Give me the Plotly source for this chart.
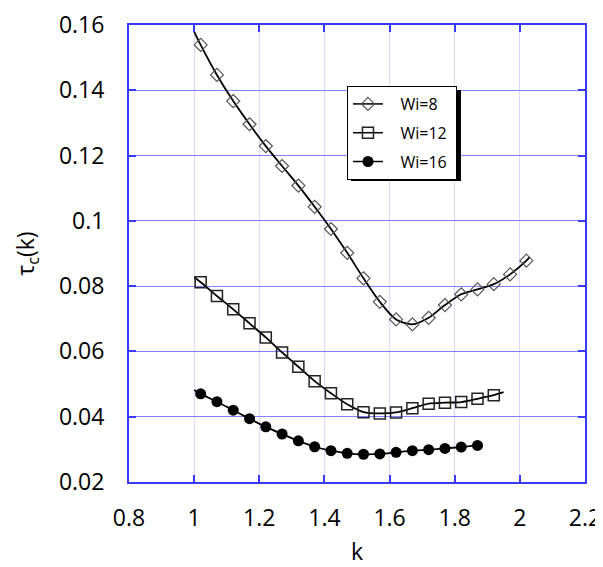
import plotly.graph_objects as go

# ---- data ----
k_wi8 = [1.02, 1.07, 1.12, 1.17, 1.22, 1.27, 1.32, 1.37, 1.42, 1.47, 1.52,
         1.57, 1.62, 1.67, 1.72, 1.77, 1.82, 1.87, 1.92, 1.97, 2.02]
tau_wi8 = [0.1539, 0.1447, 0.1367, 0.1296, 0.1229, 0.1168, 0.1108, 0.1043,
           0.0975, 0.0902, 0.0824, 0.0752, 0.0698, 0.0683, 0.0703, 0.0742,
           0.0775, 0.0790, 0.0806, 0.0836, 0.0878]

k_wi12 = [1.02, 1.07, 1.12, 1.17, 1.22, 1.27, 1.32, 1.37, 1.42, 1.47, 1.52,
          1.57, 1.62, 1.67, 1.72, 1.77, 1.82, 1.87, 1.92]
tau_wi12 = [0.0812, 0.0770, 0.0729, 0.0686, 0.0643, 0.0597, 0.0553, 0.0509,
            0.0472, 0.0438, 0.0414, 0.0410, 0.0413, 0.0426, 0.0440, 0.0443,
            0.0445, 0.0455, 0.0466]

k_wi16 = [1.02, 1.07, 1.12, 1.17, 1.22, 1.27, 1.32, 1.37, 1.42, 1.47, 1.52,
          1.57, 1.62, 1.67, 1.72, 1.77, 1.82, 1.87]
tau_wi16 = [0.0470, 0.0446, 0.0420, 0.0394, 0.0369, 0.0347, 0.0326, 0.0308,
            0.0296, 0.0288, 0.0285, 0.0286, 0.0291, 0.0296, 0.0299, 0.0303,
            0.0307, 0.0312]

# fitted curves
fit_k_wi8 = [1.00] + k_wi8 + [2.03]
fit_tau_wi8 = [0.1580] + tau_wi8 + [0.0889]
fit_k_wi12 = [1.00] + k_wi12 + [1.95]
fit_tau_wi12 = [0.0827] + tau_wi12 + [0.0475]
fit_k_wi16 = [1.00] + k_wi16
fit_tau_wi16 = [0.0482] + tau_wi16

labels = ["Wi=8", "Wi=12", "Wi=16"]
x_ticks = [0.8, 1.0, 1.2, 1.4, 1.6, 1.8, 2.0, 2.2]
x_ticktext = ["0.8", "1", "1.2", "1.4", "1.6", "1.8", "2", "2.2"]
y_ticks = [0.02, 0.04, 0.06, 0.08, 0.10, 0.12, 0.14, 0.16]
y_ticktext = ["0.02", "0.04", "0.06", "0.08", "0.1", "0.12", "0.14", "0.16"]

markers = [
    dict(symbol="diamond-open", size=10, color="#555555", line=dict(width=1.2, color="#555555")),
    dict(symbol="square-open", size=11, color="#222222", line=dict(width=1.5, color="#222222")),
    dict(symbol="circle", size=11, color="black", line=dict(width=0, color="black")),
]

fig = go.Figure()
series = [
    (fit_k_wi8, fit_tau_wi8, k_wi8, tau_wi8),
    (fit_k_wi12, fit_tau_wi12, k_wi12, tau_wi12),
    (fit_k_wi16, fit_tau_wi16, k_wi16, tau_wi16),
]
for i, (fx, fy, mx, my) in enumerate(series):
    fig.add_trace(go.Scatter(x=fx, y=fy, mode="lines", line=dict(color="black", width=1.8, shape="spline", smoothing=0.8),
                             showlegend=False, hoverinfo="skip"))
    fig.add_trace(go.Scatter(x=mx, y=my, mode="markers", marker=markers[i], showlegend=False, name=labels[i]))

for i in range(3):
    fig.add_trace(go.Scatter(x=[None], y=[None], mode="lines+markers",
                             name="\u00a0\u00a0\u00a0" + labels[i] + "\u00a0",
                             line=dict(color="black", width=1.5), marker=markers[i],
                             legendgroup=labels[i]))

axis_blue = "#3a3aff"
fig.update_layout(
    width=595, height=559,
    margin=dict(l=121, r=18, t=17, b=85),
    paper_bgcolor="white", plot_bgcolor="white",
    font=dict(family="Open Sans", size=23, color="black"),
    showlegend=True,
    legend=dict(x=0.478, y=0.8665, xanchor="left", yanchor="top",
                bgcolor="white", bordercolor="black", borderwidth=1,
                font=dict(family="Open Sans", size=16, color="black"),
                tracegroupgap=5, itemwidth=30),
    xaxis=dict(range=[0.8, 2.2], tickvals=x_ticks, ticktext=x_ticktext,
               showgrid=True, gridcolor="#d8d8ff", gridwidth=1,
               showline=True, linecolor=axis_blue, linewidth=2, mirror="ticks",
               ticks="inside", ticklen=7, tickcolor=axis_blue, tickwidth=2,
               ticklabelstandoff=14, zeroline=False, automargin=False,
               title=dict(text="k", font=dict(size=23, color="black"), standoff=20)),
    yaxis=dict(range=[0.02, 0.16], tickvals=y_ticks, ticktext=y_ticktext,
               showgrid=True, gridcolor="#8080ff", gridwidth=1,
               showline=True, linecolor=axis_blue, linewidth=2, mirror="ticks",
               ticks="inside", ticklen=7, tickcolor=axis_blue, tickwidth=2,
               ticklabelstandoff=18, zeroline=False, automargin=False,
               title=dict(text="τ<sub>c</sub>(k)", font=dict(size=23, color="black"), standoff=18)),
    shapes=[dict(type="rect", xref="paper", yref="paper",
                 x0=0.4868, x1=0.728, y0=0.6586, y1=0.8578,
                 fillcolor="black", line=dict(width=0), layer="above")],
)

fig.write_html("out.html")
